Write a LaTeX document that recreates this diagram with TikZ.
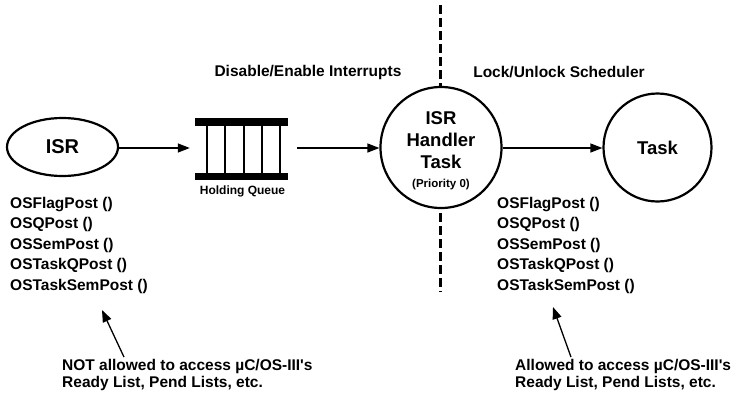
\documentclass[tikz,border=0pt]{standalone}
\usepackage{fontspec}
\setmainfont{Liberation Sans}
\usetikzlibrary{shapes.geometric,arrows.meta,calc}
\begin{document}
\begin{tikzpicture}[x=1pt,y=-1pt,
  every node/.style={font=\bfseries},
  txt/.style={inner sep=0pt,font=\fontsize{15.5}{20.5}\selectfont\bfseries,align=left},
  note/.style={inner sep=0pt,font=\fontsize{15.5}{17}\selectfont\bfseries,align=left},
  big/.style={font=\fontsize{18.5}{22}\selectfont\bfseries,align=center},
  ring/.style={circle,draw,line width=2.2pt,fill=white,inner sep=0pt},
  arr/.style={line width=1.3pt,-{Triangle[length=12pt,width=9pt]}},
  bar/.style={line width=7.5pt},
  rung/.style={line width=2pt}]
\useasboundingbox (0,0) rectangle (734,397);
% dashed divider
\coordinate (dtop) at (440,5);
\coordinate (dbot) at (440,292);
\draw[line width=3pt,dash pattern=on 9pt off 4pt] (dtop) -- (dbot);
% nodes
\node[ellipse,draw,line width=2.2pt,minimum width=111pt,minimum height=58pt,inner sep=0pt,big,font=\fontsize{20}{22}\selectfont\bfseries] (isr) at (62.5,147) {ISR};
\node[minimum width=93pt,minimum height=62pt,inner sep=0pt] (queue) at (241.5,149) {};
\node[ring,minimum size=121pt,big] (handler) at (441,147.5) {\rule{0pt}{19.5pt}ISR\\Handler\\Task\\[-3pt]{\fontsize{11.5}{13}\selectfont (Priority 0)}};
\node[ring,minimum size=108pt,big] (task) at (657.5,147.5) {Task};
% queue drawing
\draw[bar] (195,122) -- (288,122);
\draw[bar] (195,176.5) -- (288,176.5);
\foreach \x in {207,225,243.5,261.5,279.5} \draw[rung] (\x,125) -- (\x,173.5);
\node[inner sep=0pt,font=\fontsize{12}{14}\selectfont\bfseries] (qlabel) at (242.5,191) {Holding Queue};
% labels
\node[txt] (dis) at (308,72) {Disable/Enable Interrupts};
\node[txt] (lock) at (559,72) {Lock/Unlock Scheduler};
\node[txt,anchor=west] (listL) at (10,245) {OSFlagPost ()\\OSQPost ()\\OSSemPost ()\\OSTaskQPost ()\\OSTaskSemPost ()};
\node[txt,anchor=west] (listR) at (497,245) {OSFlagPost ()\\OSQPost ()\\OSSemPost ()\\OSTaskQPost ()\\OSTaskSemPost ()};
\node[note,anchor=west] (noteL) at (62,375) {NOT allowed to access µC/OS-III\textquotesingle s\\Ready List, Pend Lists, etc.};
\node[note,anchor=west] (noteR) at (515,375) {Allowed to access µC/OS-III\textquotesingle s\\Ready List, Pend Lists, etc.};
% connectors
\draw[arr] (isr.east |- 0,148) -- ($(queue.west |- 0,148)+(-5,0)$);
\draw[arr] ($(queue.east |- 0,148)+(9,0)$) -- (handler.west |- 0,148);
\draw[arr] (handler.east |- 0,148) -- (task.west |- 0,148);
\coordinate (tipL) at (102,310);
\coordinate (tipR) at (553,307);
\draw[arr] ($(noteL.north west)+(62,-2)$) -- (tipL);
\draw[arr] ($(noteR.north west)+(56,-2)$) -- (tipR);
\end{tikzpicture}
\end{document}
